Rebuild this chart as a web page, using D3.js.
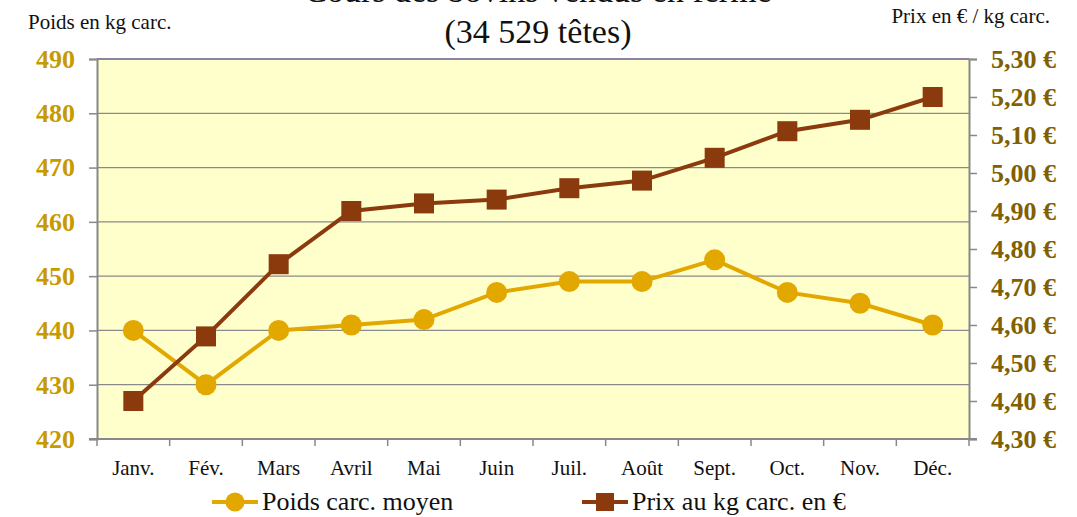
<!DOCTYPE html>
<html>
<head>
<meta charset="utf-8">
<script src="https://cdn.jsdelivr.net/npm/d3@7"></script>
<style>
  body { margin: 0; background: #fff; }
  svg text { font-family: "Liberation Serif", "Times New Roman", serif; }
</style>
</head>
<body>
<div id="chart"></div>
<script>
// data
const months = ["Janv.", "Fév.", "Mars", "Avril", "Mai", "Juin", "Juil.", "Août", "Sept.", "Oct.", "Nov.", "Déc."];
const poids = [440, 430, 440, 441, 442, 447, 449, 449, 453, 447, 445, 441];
const prix = [4.40, 4.57, 4.76, 4.90, 4.92, 4.93, 4.96, 4.98, 5.04, 5.11, 5.14, 5.20];
const poidsTicks = [420, 430, 440, 450, 460, 470, 480, 490];
const prixTicks = [4.30, 4.40, 4.50, 4.60, 4.70, 4.80, 4.90, 5.00, 5.10, 5.20, 5.30];

const width = 1077, height = 517;
const margin = { top: 59, right: 108, bottom: 78, left: 97 };

const svg = d3.select("#chart").append("svg")
    .attr("width", width)
    .attr("height", height);

const x = d3.scaleBand()
    .domain(months)
    .range([margin.left, width - margin.right]);

const yLeft = d3.scaleLinear()
    .domain([420, 490])
    .range([height - margin.bottom, margin.top]);

const yRight = d3.scaleLinear()
    .domain([4.30, 5.30])
    .range([height - margin.bottom, margin.top]);

// plot background
svg.append("rect")
    .attr("x", margin.left)
    .attr("y", margin.top)
    .attr("width", width - margin.left - margin.right)
    .attr("height", height - margin.top - margin.bottom)
    .attr("fill", "#FFFFCC");

// gridlines
svg.append("g")
    .selectAll("line")
    .data(poidsTicks.slice(1))
    .enter().append("line")
    .attr("x1", margin.left)
    .attr("x2", width - margin.right)
    .attr("y1", d => yLeft(d))
    .attr("y2", d => yLeft(d))
    .attr("stroke", "#8a8a8a")
    .attr("stroke-width", 1.2);

// top border
svg.append("line")
    .attr("x1", margin.left).attr("x2", width - margin.right)
    .attr("y1", margin.top).attr("y2", margin.top)
    .attr("stroke", "#7a6e98").attr("stroke-width", 1.5);

// left axis
const leftAxis = svg.append("g")
    .attr("transform", `translate(${margin.left},0)`)
    .call(d3.axisLeft(yLeft).tickValues(poidsTicks).tickSize(8).tickPadding(14).tickFormat(d3.format("d")))
    .attr("font-family", null);
leftAxis.select(".domain").attr("stroke", "#888").attr("stroke-width", 2);
leftAxis.selectAll(".tick line").attr("stroke", "#888").attr("stroke-width", 1.5);
leftAxis.selectAll("text")
    .attr("fill", "#C79A00")
    .attr("font-size", 26)
    .attr("font-weight", "bold");

// right axis
const fmtPrix = d => d.toFixed(2).replace(".", ",") + " €";
const rightAxis = svg.append("g")
    .attr("transform", `translate(${width - margin.right},0)`)
    .call(d3.axisRight(yRight).tickValues(prixTicks).tickSize(8).tickPadding(14).tickFormat(fmtPrix))
    .attr("font-family", null);
rightAxis.select(".domain").attr("stroke", "#888").attr("stroke-width", 2);
rightAxis.selectAll(".tick line").attr("stroke", "#888").attr("stroke-width", 1.5);
rightAxis.selectAll("text")
    .attr("fill", "#806000")
    .attr("font-size", 26)
    .attr("font-weight", "bold");

// bottom axis: ticks at category boundaries
const xBottom = height - margin.bottom;
const bounds = months.map(m => x(m)).concat([x.range()[1]]);
svg.append("line")
    .attr("x1", margin.left - 8).attr("x2", width - margin.right + 8)
    .attr("y1", xBottom).attr("y2", xBottom)
    .attr("stroke", "#888").attr("stroke-width", 2);
svg.append("g")
    .selectAll("line")
    .data(bounds)
    .enter().append("line")
    .attr("x1", d => d).attr("x2", d => d)
    .attr("y1", xBottom).attr("y2", xBottom + 7)
    .attr("stroke", "#888").attr("stroke-width", 1.5);
svg.append("g")
    .selectAll("text")
    .data(months)
    .enter().append("text")
    .attr("x", d => x(d) + x.bandwidth() / 2)
    .attr("y", xBottom + 36)
    .attr("text-anchor", "middle")
    .attr("font-size", 21)
    .attr("fill", "#111")
    .text(d => d);

const cx = d => x(d) + x.bandwidth() / 2;

// poids line
const poidsColor = "#E3A800";
svg.append("path")
    .datum(poids)
    .attr("fill", "none")
    .attr("stroke", poidsColor)
    .attr("stroke-width", 4)
    .attr("d", d3.line().x((d, i) => cx(months[i])).y(d => yLeft(d)));
svg.append("g")
    .selectAll("circle")
    .data(poids)
    .enter().append("circle")
    .attr("cx", (d, i) => cx(months[i]))
    .attr("cy", d => yLeft(d))
    .attr("r", 10.5)
    .attr("fill", poidsColor);

// prix line
const prixColor = "#8B3A0E";
svg.append("path")
    .datum(prix)
    .attr("fill", "none")
    .attr("stroke", prixColor)
    .attr("stroke-width", 4)
    .attr("d", d3.line().x((d, i) => cx(months[i])).y(d => yRight(d)));
svg.append("g")
    .selectAll("rect")
    .data(prix)
    .enter().append("rect")
    .attr("x", (d, i) => cx(months[i]) - 10)
    .attr("y", d => yRight(d) - 10)
    .attr("width", 20)
    .attr("height", 20)
    .attr("fill", prixColor);

// titles (first line is cut by the top edge, as in the original)
svg.append("text")
    .attr("x", 538).attr("y", 2)
    .attr("text-anchor", "middle")
    .attr("font-size", 34)
    .attr("fill", "#111")
    .text("Cours des bovins vendus en ferme");
svg.append("text")
    .attr("x", 538).attr("y", 43)
    .attr("text-anchor", "middle")
    .attr("font-size", 34)
    .attr("fill", "#111")
    .text("(34 529 têtes)");
svg.append("text")
    .attr("x", 28).attr("y", 29)
    .attr("font-size", 21)
    .attr("fill", "#111")
    .text("Poids en kg carc.");
svg.append("text")
    .attr("x", 1050).attr("y", 23)
    .attr("text-anchor", "end")
    .attr("font-size", 21)
    .attr("fill", "#111")
    .text("Prix en € / kg carc.");

// legend
const legendY = 502;
const legend = [
    { label: "Poids carc. moyen", color: poidsColor, shape: "circle", x: 212 },
    { label: "Prix au kg carc. en €", color: prixColor, shape: "square", x: 582 }
];
const lg = svg.append("g").selectAll("g")
    .data(legend)
    .enter().append("g")
    .attr("transform", d => `translate(${d.x},${legendY})`);
lg.append("line")
    .attr("x1", 0).attr("x2", 46)
    .attr("stroke", d => d.color)
    .attr("stroke-width", 4);
lg.filter(d => d.shape === "circle").append("circle")
    .attr("cx", 23).attr("r", 9.5)
    .attr("fill", d => d.color);
lg.filter(d => d.shape === "square").append("rect")
    .attr("x", 14).attr("y", -9).attr("width", 18).attr("height", 18)
    .attr("fill", d => d.color);
lg.append("text")
    .attr("x", 50).attr("y", 8)
    .attr("font-size", 26)
    .attr("fill", "#111")
    .text(d => d.label);
</script>
</body>
</html>
